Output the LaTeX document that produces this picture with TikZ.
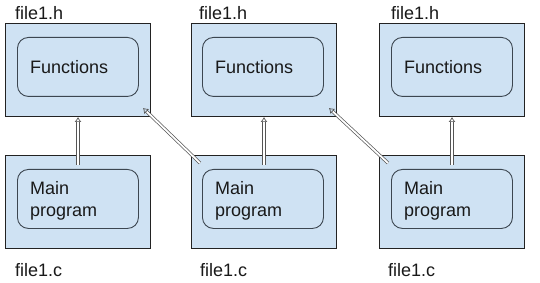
\documentclass[tikz,border=0pt]{standalone}
\usepackage{fontspec}
\setmainfont{Liberation Sans}
\usetikzlibrary{arrows.meta,calc}
\definecolor{boxfill}{HTML}{CFE2F3}
\definecolor{outerline}{HTML}{222222}
\definecolor{innerline}{HTML}{3C4650}
\definecolor{arrowline}{HTML}{555555}
\begin{document}
\begin{tikzpicture}[x=1pt,y=-1pt,
  outerbox/.style={draw=outerline, line width=1pt, fill=boxfill, minimum width=145pt, minimum height=93pt, inner sep=0pt, anchor=north west},
  innerbox/.style={draw=innerline, line width=0.9pt, fill=boxfill, rounded corners=11pt, minimum width=121pt, minimum height=59pt, inner sep=0pt, anchor=north west},
  boxtext/.style={anchor=west, inner sep=0pt, align=left, font=\fontsize{18}{22}\selectfont, text=black!90},
  filelabel/.style={anchor=base west, inner sep=0pt, font=\fontsize{18}{22}\selectfont, text=black!90},
  hollow/.style={draw=arrowline, line width=0.7pt, double=white, double distance=1.8pt, -{Latex[open,length=5pt,width=7pt]}}
]
\useasboundingbox (0,0) rectangle (540,283);
% top boxes
\node[outerbox] (h1) at (5,23) {};
\node[outerbox] (h2) at (191,23) {};
\node[outerbox] (h3) at (379,23) {};
\node[innerbox] (f1) at (17,37) {};
\node[innerbox] (f2) at (202,37) {};
\node[innerbox] (f3) at (391,37) {};
\node[boxtext] (tf1) at ($(f1.west)+(13,0)$) {Functions};
\node[boxtext] (tf2) at ($(f2.west)+(13,0)$) {Functions};
\node[boxtext] (tf3) at ($(f3.west)+(13,0)$) {Functions};
% bottom boxes
\node[outerbox] (c1) at (5,155) {};
\node[outerbox] (c2) at (191,155) {};
\node[outerbox] (c3) at (379,155) {};
\node[innerbox] (m1) at (17,169) {};
\node[innerbox] (m2) at (202,169) {};
\node[innerbox] (m3) at (391,169) {};
\node[boxtext] (tm1) at ($(m1.west)+(13,1.5)$) {Main\\program};
\node[boxtext] (tm2) at ($(m2.west)+(13,1.5)$) {Main\\program};
\node[boxtext] (tm3) at ($(m3.west)+(13,1.5)$) {Main\\program};
% labels
\node[filelabel] (lh1) at (15,20) {file1.h};
\node[filelabel] (lh2) at (199,20) {file1.h};
\node[filelabel] (lh3) at (391,20) {file1.h};
\node[filelabel] (lc1) at (15,276) {file1.c};
\node[filelabel] (lc2) at (200,276) {file1.c};
\node[filelabel] (lc3) at (388,276) {file1.c};
% arrows
\draw[hollow] ($(c1.north)+(0,10)$) -- (h1.south);
\draw[hollow] ($(c2.north)+(0,10)$) -- (h2.south);
\draw[hollow] ($(c3.north)+(0,10)$) -- (h3.south);
\draw[hollow] ($(c2.north west)+(9,8)$) -- ($(h1.south east)+(-8,-9)$);
\draw[hollow] ($(c3.north west)+(9,8)$) -- ($(h2.south east)+(-8,-9)$);
\end{tikzpicture}
\end{document}
